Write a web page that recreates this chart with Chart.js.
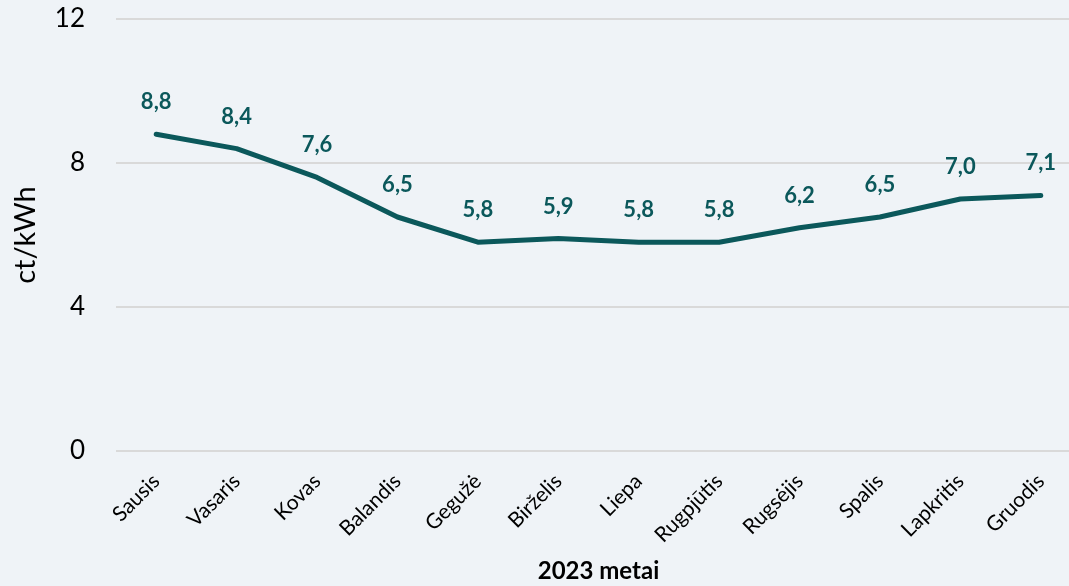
<!DOCTYPE html>
<html>
<head>
<meta charset="utf-8">
<script src="https://cdn.jsdelivr.net/npm/chart.js@4"></script>
<style>
  html, body { margin: 0; padding: 0; background: #eff3f7; overflow: hidden; }
  #wrap { width: 1081px; height: 586px; }
</style>
</head>
<body>
<div id="wrap"><canvas id="chart" width="1081" height="586"></canvas></div>
<script>
const MONTHS = [
  'Sausis', 'Vasaris', 'Kovas', 'Balandis', 'Gegužė', 'Birželis',
  'Liepa', 'Rugpjūtis', 'Rugsėjis', 'Spalis', 'Lapkritis', 'Gruodis',
];
const PRICES = [8.8, 8.4, 7.6, 6.5, 5.8, 5.9, 5.8, 5.8, 6.2, 6.5, 7.0, 7.1];
const Y_TICKS = [0, 4, 8, 12];

const LINE_COLOR = '#0b585b';
const FONT = 'Lato, "Open Sans", sans-serif';

// draws the value above each point, with a decimal comma
const valueLabels = {
  id: 'valueLabels',
  afterDatasetsDraw(chart) {
    const ctx = chart.ctx;
    const meta = chart.getDatasetMeta(0);
    ctx.save();
    ctx.font = `bold 22px ${FONT}`;
    ctx.fillStyle = LINE_COLOR;
    ctx.textAlign = 'center';
    ctx.textBaseline = 'middle';
    meta.data.forEach((pt, i) => {
      const v = chart.data.datasets[0].data[i];
      ctx.fillText(v.toFixed(1).replace('.', ','), pt.x, pt.y - 32);
    });
    ctx.restore();
  },
};

new Chart(document.getElementById('chart'), {
  type: 'line',
  data: {
    labels: MONTHS,
    datasets: [
      {
        data: PRICES,
        borderColor: LINE_COLOR,
        borderWidth: 5,
        borderJoinStyle: 'round',
        borderCapStyle: 'round',
        pointRadius: 0,
        tension: 0,
        fill: false,
      },
    ],
  },
  options: {
    responsive: false,
    animation: false,
    layout: { padding: { top: 19, right: 0, bottom: 0, left: 0 } },
    plugins: {
      legend: { display: false },
      tooltip: { enabled: false },
    },
    scales: {
      x: {
        offset: true,
        grid: { display: false },
        border: { display: false },
        ticks: {
          color: '#000',
          font: { family: FONT, size: 21 },
          minRotation: 45,
          maxRotation: 45,
          padding: 10,
          autoSkip: false,
        },
        title: {
          display: true,
          text: '2023 metai',
          color: '#000',
          font: { family: FONT, size: 24, weight: 'bold' },
          padding: { top: 0, bottom: 0 },
        },
        afterFit(scale) {
          scale.height = 135;
          scale.paddingTop = 0;
          scale.paddingBottom = 0;
        },
      },
      y: {
        min: 0,
        max: 12,
        afterBuildTicks(scale) { scale.ticks = Y_TICKS.map((v) => ({ value: v })); },
        grid: { color: '#d9d9d9', lineWidth: 2, drawTicks: false },
        border: { display: false },
        ticks: {
          color: '#000',
          font: { family: FONT, size: 26 },
          padding: 31,
        },
        title: {
          display: true,
          text: 'ct/kWh',
          color: '#000',
          font: { family: FONT, size: 29 },
          padding: { top: 8, bottom: 0 },
        },
        afterFit(scale) {
          scale.width = 116;
          scale.paddingTop = 0;
          scale.paddingBottom = 0;
        },
      },
    },
  },
  plugins: [valueLabels],
});
</script>
</body>
</html>
